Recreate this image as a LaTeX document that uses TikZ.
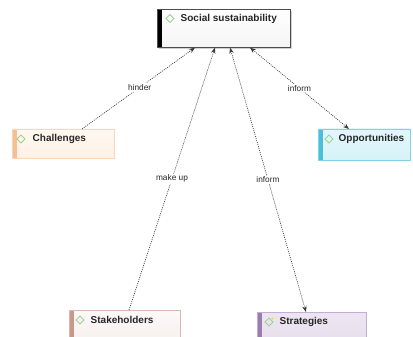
\documentclass[tikz,border=0pt]{standalone}
\usepackage{fontspec}
\setmainfont{Liberation Sans}
\usetikzlibrary{calc,arrows.meta}

\definecolor{edgegray}{HTML}{3A3A3A}
\definecolor{diagreen}{HTML}{9BD38F}
\definecolor{chalbar}{HTML}{F6BE93}
\definecolor{challine}{HTML}{F8D6B8}
\definecolor{oppbar}{HTML}{4CBFD6}
\definecolor{oppline}{HTML}{7FD3E4}
\definecolor{oppfill}{HTML}{D6F3F8}
\definecolor{stakebar}{HTML}{C8978A}
\definecolor{stakeline}{HTML}{DDB8AC}
\definecolor{stratbar}{HTML}{9A7CAE}
\definecolor{stratline}{HTML}{C2AED2}
\definecolor{stratfill}{HTML}{E8DFEE}

\tikzset{
  concept/.style={draw=#1, line width=0.6pt, anchor=north west, inner sep=0pt},
  title/.style={font=\bfseries\fontsize{10}{12}\selectfont, text=black!85, anchor=west, inner sep=0pt},
  relation/.style={draw=edgegray, line width=0.65pt, dash pattern=on 1pt off 1.1pt},
  tip/.style={-{Stealth[length=6pt,width=4.5pt]}},
  bothtips/.style={{Stealth[length=6pt,width=4.5pt]}-{Stealth[length=6pt,width=4.5pt]}},
  rellabel/.style={font=\fontsize{8.3}{10}\selectfont, text=black!85, fill=white, inner sep=1pt},
}

% concept box: name, top-left x, top-left y, width, height, border, bar, fill top, fill bottom
\newcommand{\conceptbox}[9]{%
  \shade[top color=#8, bottom color=#9] (#2,#3) rectangle ++(#4,#5);
  \fill[#7] (#2,#3) rectangle ++(4.5,#5);
  \node[concept=#6, minimum width=#4pt, minimum height=#5pt] (#1) at (#2,#3) {};
}
\newcommand{\cicon}[2]{%
  \draw[diagreen, line width=0.8pt] (#1,#2) -- ++(4,-4) -- ++(4,4) -- ++(-4,4) -- cycle;
}

\begin{document}
\begin{tikzpicture}[x=1pt,y=-1pt]
\useasboundingbox (0,0) rectangle (413,337);
\fill[white] (0,0) rectangle (413,337);

% central concept with a faint shadow
\fill[black!18] (159,11) rectangle (292,49.5);
\conceptbox{soc}{157}{9}{133}{38}{black!70}{black}{white}{black!4}
\cicon{166}{18.5}
\node[title] (soctxt) at (180.5,18.5) {Social sustainability};

% surrounding concepts
\conceptbox{chal}{12}{129}{102}{29}{challine}{chalbar}{orange!5}{orange!11}
\cicon{17}{139}
\node[title] (chaltxt) at (32.5,139) {Challenges};

\conceptbox{opp}{318}{129}{92}{31}{oppline}{oppbar}{oppfill!70}{oppfill}
\cicon{325}{139}
\node[title] (opptxt) at (338.5,139) {Opportunities};

\conceptbox{stake}{69}{310}{111}{30}{stakeline}{stakebar}{stakebar!6}{stakebar!14}
\cicon{76}{320}
\node[title] (staketxt) at (90.5,320) {Stakeholders};

\conceptbox{strat}{257}{312}{109}{30}{stratline}{stratbar}{stratfill!80}{stratfill}
\cicon{265}{322}
\fill[yellow!80!orange] (272.5,318.5) circle (1.2);
\node[title] (strattxt) at (279.5,322) {Strategies};

% attachment points on the box borders
\coordinate (s1) at ($(soc.south west)+(38,0)$);
\coordinate (s2) at ($(soc.south west)+(58,0)$);
\coordinate (s3) at ($(soc.south west)+(73,0)$);
\coordinate (s4) at ($(soc.south west)+(93,0)$);
\coordinate (c1) at ($(chal.north west)+(70,0)$);
\coordinate (o1) at ($(opp.north west)+(31,0)$);
\coordinate (k1) at ($(stake.north west)+(60,0)$);
\coordinate (g1) at ($(strat.north west)+(49,0)$);

% relations
\draw[relation, tip] (c1) -- node[rellabel, pos=0.51] {hinder} (s1);
\draw[relation, tip] (k1) -- node[rellabel, pos=0.5] {make up} (s2);
\draw[relation, bothtips] (s3) -- node[rellabel, pos=0.5] {inform} (g1);
\draw[relation, bothtips] (s4) -- node[rellabel, pos=0.5] {inform} (o1);
\end{tikzpicture}
\end{document}
